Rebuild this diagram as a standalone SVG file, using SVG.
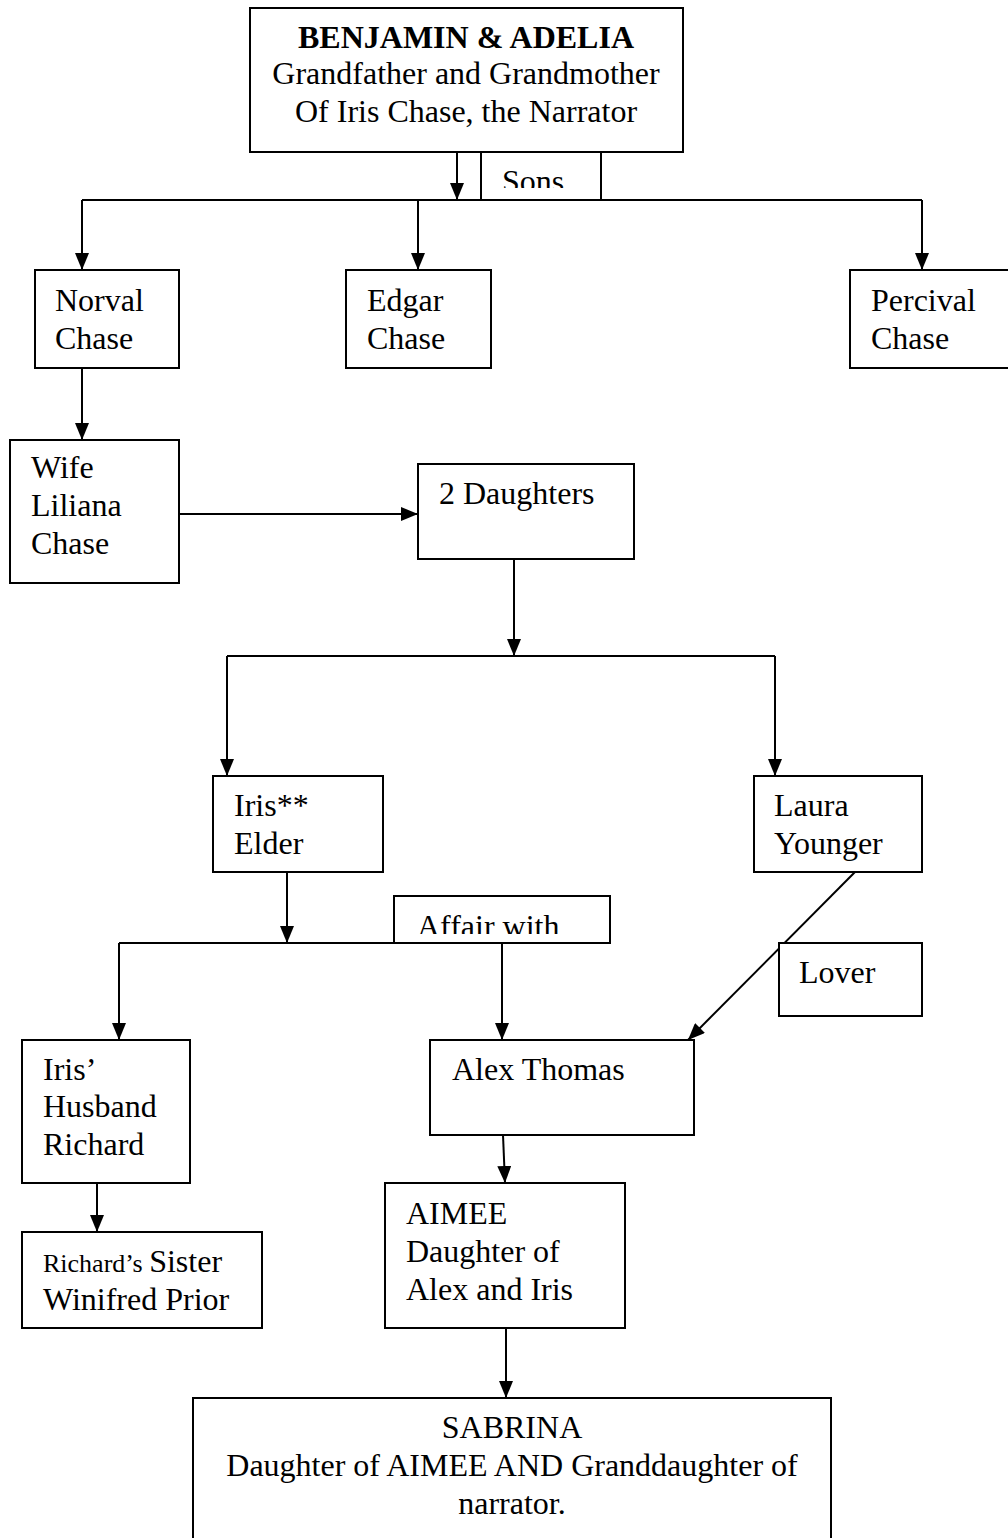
<svg xmlns="http://www.w3.org/2000/svg" width="1008" height="1538" viewBox="0 0 1008 1538">
<style>
.box{fill:#fff;stroke:#000;stroke-width:2}
.t{font-family:"Liberation Serif","Times New Roman",serif;font-size:32px;fill:#000}
.s{font-size:26px}
.b{font-weight:bold}
.c{fill:none;stroke:#000;stroke-width:2}
.a{marker-end:url(#ah)}
</style>
<defs>
<marker id="ah" markerUnits="userSpaceOnUse" markerWidth="17" markerHeight="14" viewBox="0 0 17 14" refX="17" refY="7" orient="auto">
<path d="M0,0 L17,7 L0,14 Z" fill="#000"/>
</marker>
<clipPath id="clipSons"><rect x="482" y="153" width="118" height="35"/></clipPath>
<clipPath id="clipAffair"><rect x="395" y="897" width="214" height="37"/></clipPath>
</defs>

<g id="connectors">
<line class="c a" x1="457" y1="152" x2="457" y2="200"/>
<line class="c" x1="82" y1="200" x2="922" y2="200"/>
<line class="c a" x1="82" y1="200" x2="82" y2="270"/>
<line class="c a" x1="418" y1="200" x2="418" y2="270"/>
<line class="c a" x1="922" y1="200" x2="922" y2="270"/>
<line class="c a" x1="82" y1="368" x2="82" y2="440"/>
<line class="c a" x1="179" y1="514" x2="418" y2="514"/>
<line class="c a" x1="514" y1="559" x2="514" y2="656"/>
<line class="c" x1="227" y1="656" x2="775" y2="656"/>
<line class="c a" x1="227" y1="656" x2="227" y2="776"/>
<line class="c a" x1="775" y1="656" x2="775" y2="776"/>
<line class="c a" x1="287" y1="872" x2="287" y2="943"/>
<line class="c" x1="119" y1="943" x2="610" y2="943"/>
<line class="c a" x1="119" y1="943" x2="119" y2="1040"/>
<line class="c a" x1="502" y1="943" x2="502" y2="1040"/>
<line class="c a" x1="855" y1="872" x2="688" y2="1040"/>
<line class="c a" x1="503" y1="1135" x2="505" y2="1183"/>
<line class="c a" x1="97" y1="1183" x2="97" y2="1232"/>
<line class="c a" x1="506" y1="1328" x2="506" y2="1398"/>
</g>

<g id="benjamin-adelia">
<rect class="box" x="250" y="8" width="433" height="144"/>
<text class="t b" x="466" y="48" text-anchor="middle">BENJAMIN &amp; ADELIA</text>
<text class="t" x="466" y="84" text-anchor="middle">Grandfather and Grandmother</text>
<text class="t" x="466" y="122" text-anchor="middle">Of Iris Chase, the Narrator</text>
</g>

<g id="sons-label">
<path class="c" d="M481,152 V200 M601,152 V200"/>
<text class="t" x="502" y="192" clip-path="url(#clipSons)">Sons</text>
</g>

<g id="norval">
<rect class="box" x="35" y="270" width="144" height="98"/>
<text class="t" x="55" y="311">Norval</text>
<text class="t" x="55" y="349">Chase</text>
</g>

<g id="edgar">
<rect class="box" x="346" y="270" width="145" height="98"/>
<text class="t" x="367" y="311">Edgar</text>
<text class="t" x="367" y="349">Chase</text>
</g>

<g id="percival">
<rect class="box" x="850" y="270" width="160" height="98"/>
<text class="t" x="871" y="311">Percival</text>
<text class="t" x="871" y="349">Chase</text>
</g>

<g id="liliana">
<rect class="box" x="10" y="440" width="169" height="143"/>
<text class="t" x="31" y="478">Wife</text>
<text class="t" x="31" y="516">Liliana</text>
<text class="t" x="31" y="554">Chase</text>
</g>

<g id="daughters">
<rect class="box" x="418" y="464" width="216" height="95"/>
<text class="t" x="439" y="504">2 Daughters</text>
</g>

<g id="iris">
<rect class="box" x="213" y="776" width="170" height="96"/>
<text class="t" x="234" y="816">Iris**</text>
<text class="t" x="234" y="854">Elder</text>
</g>

<g id="laura">
<rect class="box" x="754" y="776" width="168" height="96"/>
<text class="t" x="774" y="816">Laura</text>
<text class="t" x="774" y="854">Younger</text>
</g>

<g id="affair-label">
<rect class="box" x="394" y="896" width="216" height="47"/>
<text class="t" x="417" y="937" clip-path="url(#clipAffair)">Affair with</text>
</g>

<g id="lover-label">
<rect class="box" x="779" y="943" width="143" height="73"/>
<text class="t" x="799" y="983">Lover</text>
</g>

<g id="richard">
<rect class="box" x="22" y="1040" width="168" height="143"/>
<text class="t" x="43" y="1080">Iris’</text>
<text class="t" x="43" y="1117">Husband</text>
<text class="t" x="43" y="1155">Richard</text>
</g>

<g id="alex">
<rect class="box" x="430" y="1040" width="264" height="95"/>
<text class="t" x="452" y="1080">Alex Thomas</text>
</g>

<g id="winifred">
<rect class="box" x="22" y="1232" width="240" height="96"/>
<text class="t" x="43" y="1272"><tspan class="s">Richard’s </tspan>Sister</text>
<text class="t" x="43" y="1310">Winifred Prior</text>
</g>

<g id="aimee">
<rect class="box" x="385" y="1183" width="240" height="145"/>
<text class="t" x="406" y="1224">AIMEE</text>
<text class="t" x="406" y="1262">Daughter of</text>
<text class="t" x="406" y="1300">Alex and Iris</text>
</g>

<g id="sabrina">
<rect class="box" x="193" y="1398" width="638" height="150"/>
<text class="t" x="512" y="1438" text-anchor="middle">SABRINA</text>
<text class="t" x="512" y="1476" text-anchor="middle">Daughter of AIMEE AND Granddaughter of</text>
<text class="t" x="512" y="1514" text-anchor="middle">narrator.</text>
</g>
</svg>
